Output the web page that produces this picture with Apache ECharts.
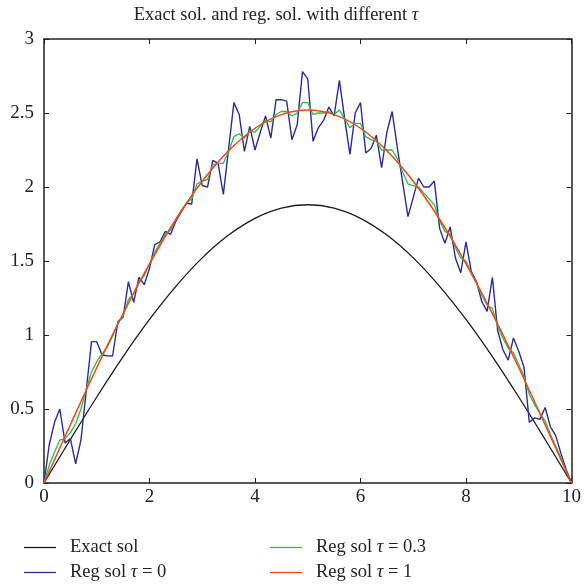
<!DOCTYPE html>
<html>
<head>
<meta charset="utf-8">
<script src="https://cdn.jsdelivr.net/npm/echarts@6/dist/echarts.min.js"></script>
<style>html,body{margin:0;padding:0;background:#fff}#c{width:584px;height:584px}</style>
</head>
<body>
<div id="c"></div>
<script>
// ---- data ----
const seriesNames = ['Exact sol', 'Reg sol τ = 0', 'Reg sol τ = 0.3', 'Reg sol τ = 1'];
const xTicks = [0, 2, 4, 6, 8, 10];
const yTicks = [0, 0.5, 1, 1.5, 2, 2.5, 3];

// coarse grid (step 0.5) for the smooth curves
const xCoarse = [0,0.5,1,1.5,2,2.5,3,3.5,4,4.5,5,5.5,6,6.5,7,7.5,8,8.5,9,9.5,10];
const exactSol = [0,0.294,0.581,0.854,1.105,1.329,1.521,1.675,1.788,1.857,1.88,1.857,1.788,1.675,1.521,1.329,1.105,0.854,0.581,0.294,0];
const regTau1 = [0,0.394,0.779,1.144,1.481,1.782,2.039,2.245,2.397,2.489,2.52,2.489,2.397,2.245,2.039,1.782,1.481,1.144,0.779,0.394,0];

// fine grid (step 0.1) for the noisy curves
const xFine = Array.from({length: 101}, (_, i) => +(i / 10).toFixed(1));
const regTau0 = [
  0,0.26,0.41,0.50,0.27,0.30,0.13,0.29,0.62,0.955,
  0.955,0.865,0.86,0.858,1.09,1.12,1.36,1.22,1.39,1.34,
  1.45,1.61,1.63,1.70,1.68,1.77,1.83,1.89,1.885,2.19,
  2.01,2.00,2.18,2.16,1.95,2.26,2.57,2.49,2.24,2.41,
  2.25,2.37,2.48,2.33,2.59,2.59,2.58,2.32,2.42,2.78,
  2.73,2.31,2.40,2.45,2.54,2.48,2.72,2.46,2.22,2.50,
  2.57,2.23,2.26,2.35,2.13,2.37,2.51,2.26,2.03,1.80,
  1.93,2.06,2.00,2.00,2.04,1.72,1.62,1.73,1.52,1.42,
  1.63,1.43,1.36,1.225,1.16,1.39,1.03,0.90,0.83,0.98,
  0.89,0.78,0.41,0.44,0.43,0.51,0.38,0.32,0.20,0.09,
  0
];
const regTau03 = [
  0,0.12,0.21,0.29,0.30,0.34,0.40,0.50,0.63,0.75,
  0.82,0.87,0.92,0.99,1.08,1.13,1.24,1.28,1.36,1.40,
  1.48,1.56,1.62,1.68,1.71,1.78,1.84,1.89,1.92,2.02,
  2.04,2.05,2.15,2.16,2.16,2.24,2.34,2.36,2.33,2.38,
  2.37,2.41,2.45,2.44,2.49,2.51,2.51,2.48,2.50,2.57,
  2.57,2.49,2.50,2.50,2.51,2.49,2.52,2.46,2.40,2.43,
  2.43,2.34,2.32,2.31,2.25,2.25,2.25,2.19,2.10,2.02,
  2.01,2.00,1.96,1.92,1.88,1.77,1.70,1.68,1.59,1.52,
  1.50,1.42,1.35,1.27,1.20,1.18,1.06,0.98,0.91,0.88,
  0.80,0.72,0.60,0.53,0.47,0.42,0.33,0.25,0.17,0.08,
  0
];

const colors = ['#1a1a1a', '#2c2c96', '#2dbb4a', '#f2461e'];

// ---- chart ----
const zip = (xs, ys) => xs.map((x, i) => [x, ys[i]]);
const serif = 'Liberation Serif';
const textFs = 18.5;
const tickFs = 19;
const chart = echarts.init(document.getElementById('c'), null, {renderer: 'canvas'});

function tauFmt(name) {
  return name.replace('τ', '{i|τ}');
}
const richTau = {i: {fontStyle: 'italic', fontFamily: serif, fontSize: textFs, color: '#222'}};

function legendItem(name, left, top) {
  return {
    data: [name], left: left, top: top, orient: 'horizontal',
    icon: 'rect', itemWidth: 32, itemHeight: 1.3, padding: 0,
    formatter: tauFmt, selectedMode: false,
    textStyle: {fontFamily: serif, fontSize: textFs, color: '#222', padding: [0, 0, 0, 9], rich: richTau}
  };
}

const baseAxis = {
  axisLine: {show: true, onZero: false, lineStyle: {color: '#222', width: 1.5}},
  axisTick: {show: true, inside: true, length: 5, lineStyle: {color: '#222', width: 1}},
  splitLine: {show: false}
};

chart.setOption({
  animation: false,
  backgroundColor: '#fff',
  title: {
    text: '{t|Exact sol. and reg. sol. with different }{i|τ}',
    left: 271, textAlign: 'center', top: 1,
    textStyle: {
      fontWeight: 'normal',
      rich: {
        t: {fontFamily: serif, fontSize: textFs, fontWeight: 'normal', color: '#222'},
        i: {fontFamily: serif, fontSize: textFs, fontWeight: 'normal', fontStyle: 'italic', color: '#222'}
      }
    }
  },
  grid: {left: 44, right: 11, top: 39, bottom: 101, containLabel: false},
  legend: [
    legendItem(seriesNames[0], 24, 538),
    legendItem(seriesNames[1], 24, 563),
    legendItem(seriesNames[2], 270, 538),
    legendItem(seriesNames[3], 270, 563)
  ],
  xAxis: [
    Object.assign({}, baseAxis, {
      type: 'value', min: 0, max: 10, interval: 2, position: 'bottom',
      axisLabel: {show: true, margin: 5, fontFamily: serif, fontSize: tickFs, color: '#222',
        customValues: xTicks}
    }),
    Object.assign({}, baseAxis, {
      type: 'value', min: 0, max: 10, interval: 2, position: 'top',
      axisLabel: {show: false}
    })
  ],
  yAxis: [
    Object.assign({}, baseAxis, {
      type: 'value', min: 0, max: 3, interval: 0.5, position: 'left',
      axisLabel: {show: true, margin: 10, fontFamily: serif, fontSize: tickFs, color: '#222',
        customValues: yTicks}
    }),
    Object.assign({}, baseAxis, {
      type: 'value', min: 0, max: 3, interval: 0.5, position: 'right',
      axisLabel: {show: false}
    })
  ],
  series: [
    {name: seriesNames[0], type: 'line', data: zip(xCoarse, exactSol), smooth: 0.35, showSymbol: false,
      lineStyle: {color: colors[0], width: 1.3}, itemStyle: {color: colors[0]}, z: 2},
    {name: seriesNames[1], type: 'line', data: zip(xFine, regTau0), smooth: false, showSymbol: false,
      lineStyle: {color: colors[1], width: 1.4}, itemStyle: {color: colors[1]}, z: 3},
    {name: seriesNames[2], type: 'line', data: zip(xFine, regTau03), smooth: false, showSymbol: false,
      lineStyle: {color: colors[2], width: 1.3}, itemStyle: {color: colors[2]}, z: 4},
    {name: seriesNames[3], type: 'line', data: zip(xCoarse, regTau1), smooth: 0.35, showSymbol: false,
      lineStyle: {color: colors[3], width: 1.5}, itemStyle: {color: colors[3]}, z: 5}
  ]
});
</script>
</body>
</html>
